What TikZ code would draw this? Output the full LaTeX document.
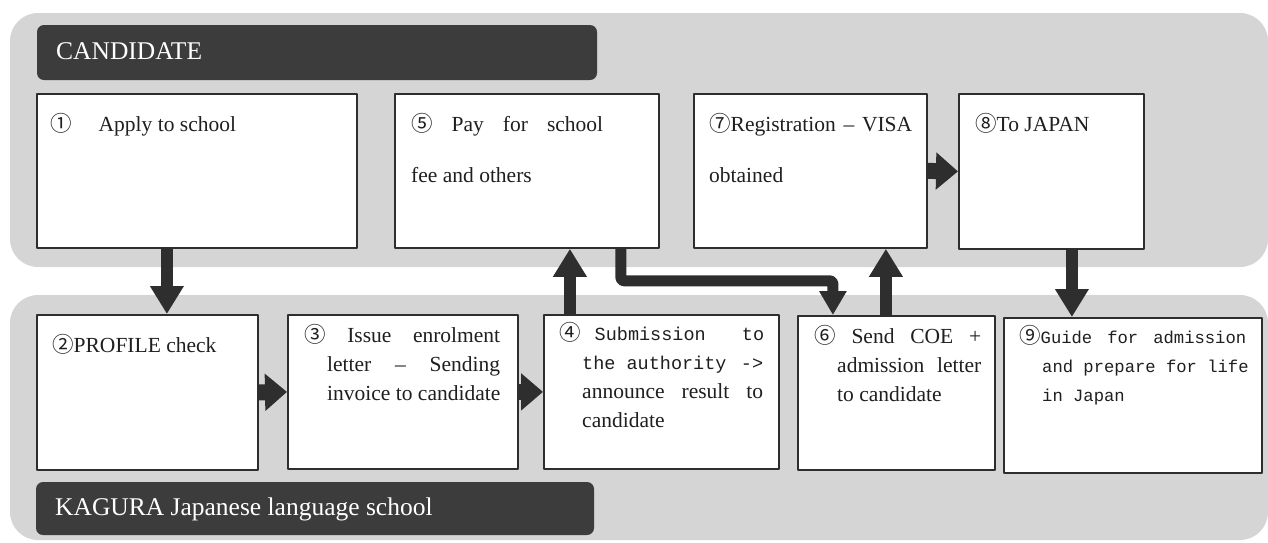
\documentclass[tikz,border=0pt]{standalone}
\usepackage{fontspec}
\setmainfont{Liberation Serif}
\newfontfamily\cnum{Noto Sans CJK JP}
\newfontfamily\mono{Liberation Mono}
\usetikzlibrary{arrows.meta}
\definecolor{band}{HTML}{D5D5D5}
\definecolor{bar}{HTML}{3C3C3C}
\definecolor{ink}{HTML}{2E2E2E}
\newcommand{\cn}[1]{{\cnum #1}}
\newcommand{\jl}[2]{\makebox[#1][s]{#2}}
\newcommand{\mt}[2]{{\mono\fontsize{#1}{29}\selectfont #2}}
\begin{document}
\begin{tikzpicture}[x=1pt,y=-1pt,line join=round,
    stepbox/.style={draw=ink,line width=1.8pt,fill=white,anchor=north west,inner sep=0pt},
    steptext/.style={anchor=base west,inner sep=0pt,text=black!88,font=\fontsize{21.5}{29}\selectfont},
    flow/.style={draw=ink,line width=12pt,-{Triangle[length=28pt,width=32pt]}},
    flowh/.style={draw=ink,line width=16pt,-{Triangle[length=22pt,width=36pt]}},
    lane/.style={fill=band,rounded corners=28pt},
    tag/.style={fill=bar,rounded corners=7pt},
    tagtext/.style={anchor=base west,inner sep=0pt,text=white,font=\fontsize{25.5}{30}\selectfont}]
  \useasboundingbox (0,0) rectangle (1268,542);
  % lanes and their titles
  \fill[lane] (10,13) rectangle (1268,267);
  \fill[lane] (10,295) rectangle (1268,540);
  \fill[tag] (37,25) rectangle (597,80);
  \fill[tag] (36,482) rectangle (594,535);
  \node[tagtext] (cand) at (56,59) {CANDIDATE};
  \node[tagtext] (kagura) at (55,515) {KAGURA Japanese language school};

  % steps
  \node[stepbox,minimum width=320pt,minimum height=154pt] (s1) at (36,93) {};
  \node[stepbox,minimum width=221pt,minimum height=155pt] (s2) at (36,314) {};
  \node[stepbox,minimum width=230pt,minimum height=154pt] (s3) at (287,314) {};
  \node[stepbox,minimum width=235pt,minimum height=154pt] (s4) at (543,314) {};
  \node[stepbox,minimum width=264pt,minimum height=154pt] (s5) at (394,93) {};
  \node[stepbox,minimum width=197pt,minimum height=154pt] (s6) at (797,315) {};
  \node[stepbox,minimum width=233pt,minimum height=154pt] (s7) at (693,93) {};
  \node[stepbox,minimum width=185pt,minimum height=155pt] (s8) at (958,93) {};
  \node[stepbox,minimum width=258pt,minimum height=155pt] (s9) at (1003,317) {};

  \node[steptext] (t1) at (50,131) {\cn{①}\hspace{27pt}Apply to school};
  \node[steptext] (t2) at (52,352) {\cn{②}PROFILE check};
  \node[steptext] (t3) at (304,342) {\parbox[t]{200pt}{%
      \jl{196pt}{\cn{③} Issue enrolment}\\
      \hspace*{23pt}\jl{173pt}{letter – Sending}\\
      \hspace*{23pt}invoice to candidate}};
  \node[steptext] (t4) at (559,340) {\parbox[t]{210pt}{%
      \jl{205pt}{\cn{④}\hspace{14pt}\mt{18.5}{Submission\hfill to}}\\
      \hspace*{23pt}\jl{181pt}{\mt{18.5}{the authority\hfill ->}}\\
      \hspace*{23pt}\jl{181pt}{announce result to}\\
      \hspace*{23pt}candidate}};
  \node[steptext,font=\fontsize{21.5}{51}\selectfont] (t5) at (411,131) {\parbox[t]{200pt}{%
      \jl{192pt}{\cn{⑤} Pay for school}\\
      fee and others}};
  \node[steptext] (t6) at (814,343) {\parbox[t]{172pt}{%
      \jl{167pt}{\cn{⑥} Send COE +}\\
      \hspace*{23pt}\jl{144pt}{admission letter}\\
      \hspace*{23pt}to candidate}};
  \node[steptext,font=\fontsize{21.5}{51}\selectfont] (t7) at (709,131) {\parbox[t]{210pt}{%
      \jl{203pt}{\cn{⑦}Registration – VISA}\\
      obtained}};
  \node[steptext] (t8) at (975,131) {\cn{⑧}To JAPAN};
  \node[steptext] (t9) at (1019,343) {\parbox[t]{232pt}{%
      \jl{227pt}{\cn{⑨}\mt{17.2}{Guide\hfill for\hfill admission}}\\
      \hspace*{23pt}\mt{17.2}{and prepare for life}\\
      \hspace*{23pt}\mt{17.2}{in Japan}}};

  % flow
  \draw[flow] ([xshift=-30pt]s1.south) -- ([xshift=19.5pt]s2.north);
  \draw[flowh] (s2.east) -- (s3.west);
  \draw[flowh] (s3.east) -- (s4.west);
  \draw[flow] ([xshift=-91.5pt]s4.north) -- ([xshift=43pt]s5.south);
  \draw[flow,line width=11pt,-{Triangle[length=24pt,width=26pt]},rounded corners=3pt]
    ([xshift=94pt]s5.south) -- ++(0,32) -| ([xshift=-63.5pt]s6.north);
  \draw[flow] ([xshift=-10.5pt]s6.north) -- ([xshift=75.5pt]s7.south);
  \draw[flowh] (s7.east) -- (s8.west);
  \draw[flow] ([xshift=20.5pt]s8.south) -- ([xshift=-61pt]s9.north);
\end{tikzpicture}
\end{document}
